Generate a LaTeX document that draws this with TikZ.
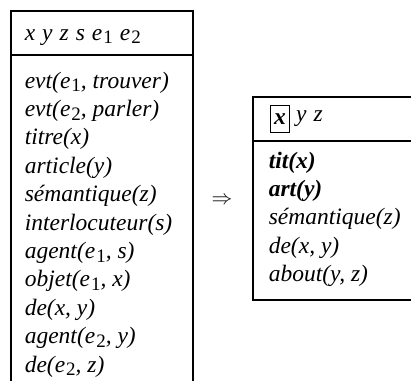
\documentclass[tikz,border=0pt]{standalone}
\usepackage{fontspec}
\setmainfont{Liberation Serif}
\usepackage{tikz}
\usetikzlibrary{calc, positioning}

\newcommand{\idx}[1]{\hspace{1pt}\raisebox{-0.35ex}{\upshape\fontsize{19}{19}\selectfont #1}}
\newcommand{\gap}{\hspace{7pt}}

\begin{document}
\begin{tikzpicture}[x=1pt, y=-1pt, line width=1.6pt,
    txt/.style={anchor=base west, inner sep=0pt, font=\fontsize{23.5}{28}\selectfont\itshape}]
    \useasboundingbox (0,0) rectangle (411,380);

    % Khung bên trái
    \draw (11,420) -- (11,11) -- (193,11) -- (193,420);
    \draw (11,55) -- (193,55);
    \node[txt] (lh) at (24,40) {x\gap y\gap z\gap s\gap e\idx{1}\gap e\idx{2}};
    \foreach \t [count=\i] in {{evt(e\idx{1}, trouver)}, {evt(e\idx{2}, parler)}, titre(x),
        article(y), sémantique(z), interlocuteur(s), {agent(e\idx{1}, s)},
        {objet(e\idx{1}, x)}, {de(x, y)}, {agent(e\idx{2}, y)}, {de(e\idx{2}, z)}}
        \node[txt] (l\i) at (24,{88+28.4*(\i-1)}) {\t};

    % Mũi tên
    \node[font=\fontsize{20}{24}\selectfont] (imp) at (222,201) {$\Rightarrow$};

    % Khung bên phải
    \draw (420,97) -- (253,97) -- (253,300) -- (420,300);
    \draw (253,141) -- (420,141);
    \node[draw, line width=1.6pt, minimum width=19pt, minimum height=27pt, inner sep=0pt,
        font=\fontsize{23.5}{28}\selectfont\bfseries\itshape] (rx) at (280,119) {x};
    \node[txt, right=5pt of rx.east, anchor=west] (ryz) {y\gap z};
    \foreach \t [count=\i] in {\textbf{tit(x)}, \textbf{art(y)}, sémantique(z), {de(x, y)}, {about(y, z)}}
        \node[txt] (r\i) at (268,{168+28.4*(\i-1)}) {\t};
\end{tikzpicture}
\end{document}
